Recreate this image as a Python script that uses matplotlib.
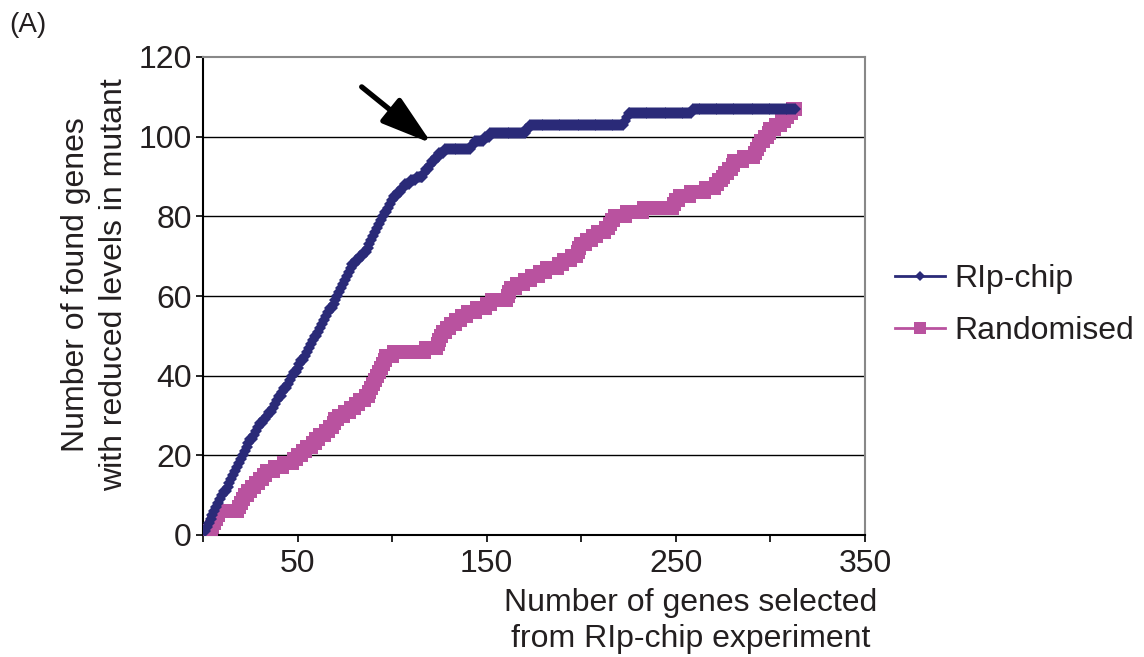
import numpy as np
import matplotlib
matplotlib.use("Agg")
import matplotlib.pyplot as plt
from matplotlib.lines import Line2D

plt.rcParams['font.family'] = ['Liberation Sans', 'DejaVu Sans']

# ---- data ----
n_genes = 313
genes_selected = np.arange(1, n_genes + 1)

# ranks (in the RIp-chip ordered list) at which a gene with reduced levels is found
rip_hit_ranks = [1, 2, 3, 4, 5, 6, 7, 8, 9, 10, 11, 13, 14, 15, 16, 17, 18, 19, 20, 21,
                 22, 23, 24, 25, 27, 28, 29, 30,
                 32, 34, 35, 37,
                 38, 39, 40, 42, 43, 45, 46,
                 47, 48, 50, 51, 52, 54, 55,
                 56, 57, 58, 59, 61, 62, 63,
                 64, 65, 66, 67, 69, 70, 71,
                 72, 73, 74, 75, 76,
                 77, 78, 79,
                 81, 83, 85,
                 87, 88, 89, 90, 91,
                 92, 93, 94, 95, 96, 98, 99, 100, 101,
                 103, 105, 107,
                 110, 113,
                 117, 118, 120, 121, 123,
                 125, 128,
                 142, 144,
                 149, 152,
                 171, 173,
                 223, 224, 225,
                 259]

random_hit_ranks = [1, 5, 6, 7, 8, 9,
                    19, 20, 21, 22,
                    24, 26, 28,
                    30, 32, 34,
                    38, 43,
                    48, 50,
                    53, 55, 58,
                    60, 62, 65,
                    67, 69, 70, 72,
                    75, 78, 81,
                    83, 86,
                    88, 89, 90, 91, 92,
                    93, 94, 95, 96, 97,
                    101, 118,
                    124, 125, 126, 127,
                    129, 131, 134,
                    137, 140, 145,
                    150, 153,
                    161, 162, 163,
                    166, 170,
                    174, 178, 182,
                    188, 191, 195,
                    198, 199, 200,
                    203, 206, 209, 213,
                    215, 216, 218,
                    224, 233,
                    249, 250, 252,
                    258, 266,
                    271, 273, 275, 276,
                    278, 280, 281, 286,
                    292, 293, 294, 295,
                    297, 299, 300,
                    303, 306, 308, 310, 312]

rip_found = np.searchsorted(np.array(rip_hit_ranks), genes_selected, side='right')
random_found = np.searchsorted(np.array(random_hit_ranks), genes_selected, side='right')

series_labels = ["RIp-chip", "Randomised"]
x_ticks = [0, 50, 100, 150, 200, 250, 300, 350]
x_tick_labels = ["", "50", "", "150", "", "250", "", "350"]
y_ticks = [0, 20, 40, 60, 80, 100, 120]

blue = '#2a2a78'
pink = '#b9529f'
text_col = '#231f20'
FS = 23

# ---- figure ----
fig = plt.figure(figsize=(11.44, 6.57), dpi=100)
ax = fig.add_axes([203/1144, 1-535/657, 662/1144, 478/657])

ax.set_xlim(0, 350)
ax.set_ylim(0, 120)

for yv in y_ticks[1:-1]:
    ax.axhline(yv, color='black', lw=1.0, zorder=1)

ax.plot(genes_selected, random_found, color=pink, lw=2.5, marker='s', markersize=9.5,
        markeredgewidth=0, zorder=3)
ax.plot(genes_selected, rip_found, color=blue, lw=2.5, marker='D', markersize=6,
        markeredgewidth=0, zorder=4)

ax.set_xticks(x_ticks)
ax.set_xticklabels(x_tick_labels)
ax.set_yticks(y_ticks)
ax.tick_params(axis='both', labelsize=FS, direction='out', length=5, width=1.2,
               color='black', labelcolor=text_col)
ax.tick_params(axis='x', pad=5)
ax.tick_params(axis='y', pad=3)

for s in ['left', 'bottom']:
    ax.spines[s].set_color('black')
    ax.spines[s].set_linewidth(1.5)
for s in ['top', 'right']:
    ax.spines[s].set_color('#888888')
    ax.spines[s].set_linewidth(1.5)

# arrow
ax.annotate('', xy=(120.9, 98.3), xytext=(83.9, 112.5),
            arrowprops=dict(arrowstyle='-|>,head_length=3.1,head_width=0.95',
                            mutation_scale=10, lw=3.8, color='black',
                            shrinkA=0, shrinkB=0), zorder=6)

# axis titles
fig.text(95/1144, 1-285/657, "Number of found genes\nwith reduced levels in mutant",
         rotation=90, ha='center', va='center', multialignment='center',
         fontsize=FS, color=text_col, linespacing=1.35)
fig.text(691/1144, 1-621/657, "Number of genes selected\nfrom RIp-chip experiment",
         ha='center', va='center', multialignment='center',
         fontsize=FS, color=text_col, linespacing=1.28)
fig.text(9/1144, 1-25/657, "(A)", ha='left', va='center', fontsize=20, color=text_col)

# legend
handles = [Line2D([], [], color=blue, lw=2, marker='D', markersize=4.8, markeredgewidth=0),
           Line2D([], [], color=pink, lw=2, marker='s', markersize=8, markeredgewidth=0)]
fig.legend(handles, series_labels, loc='center left',
           bbox_to_anchor=(895/1144, 1-305/657), frameon=False, fontsize=FS,
           handlelength=1.55, handletextpad=0.3, labelspacing=0.68,
           borderpad=0, borderaxespad=0, labelcolor=text_col)

fig.savefig('out.png', dpi=100)
